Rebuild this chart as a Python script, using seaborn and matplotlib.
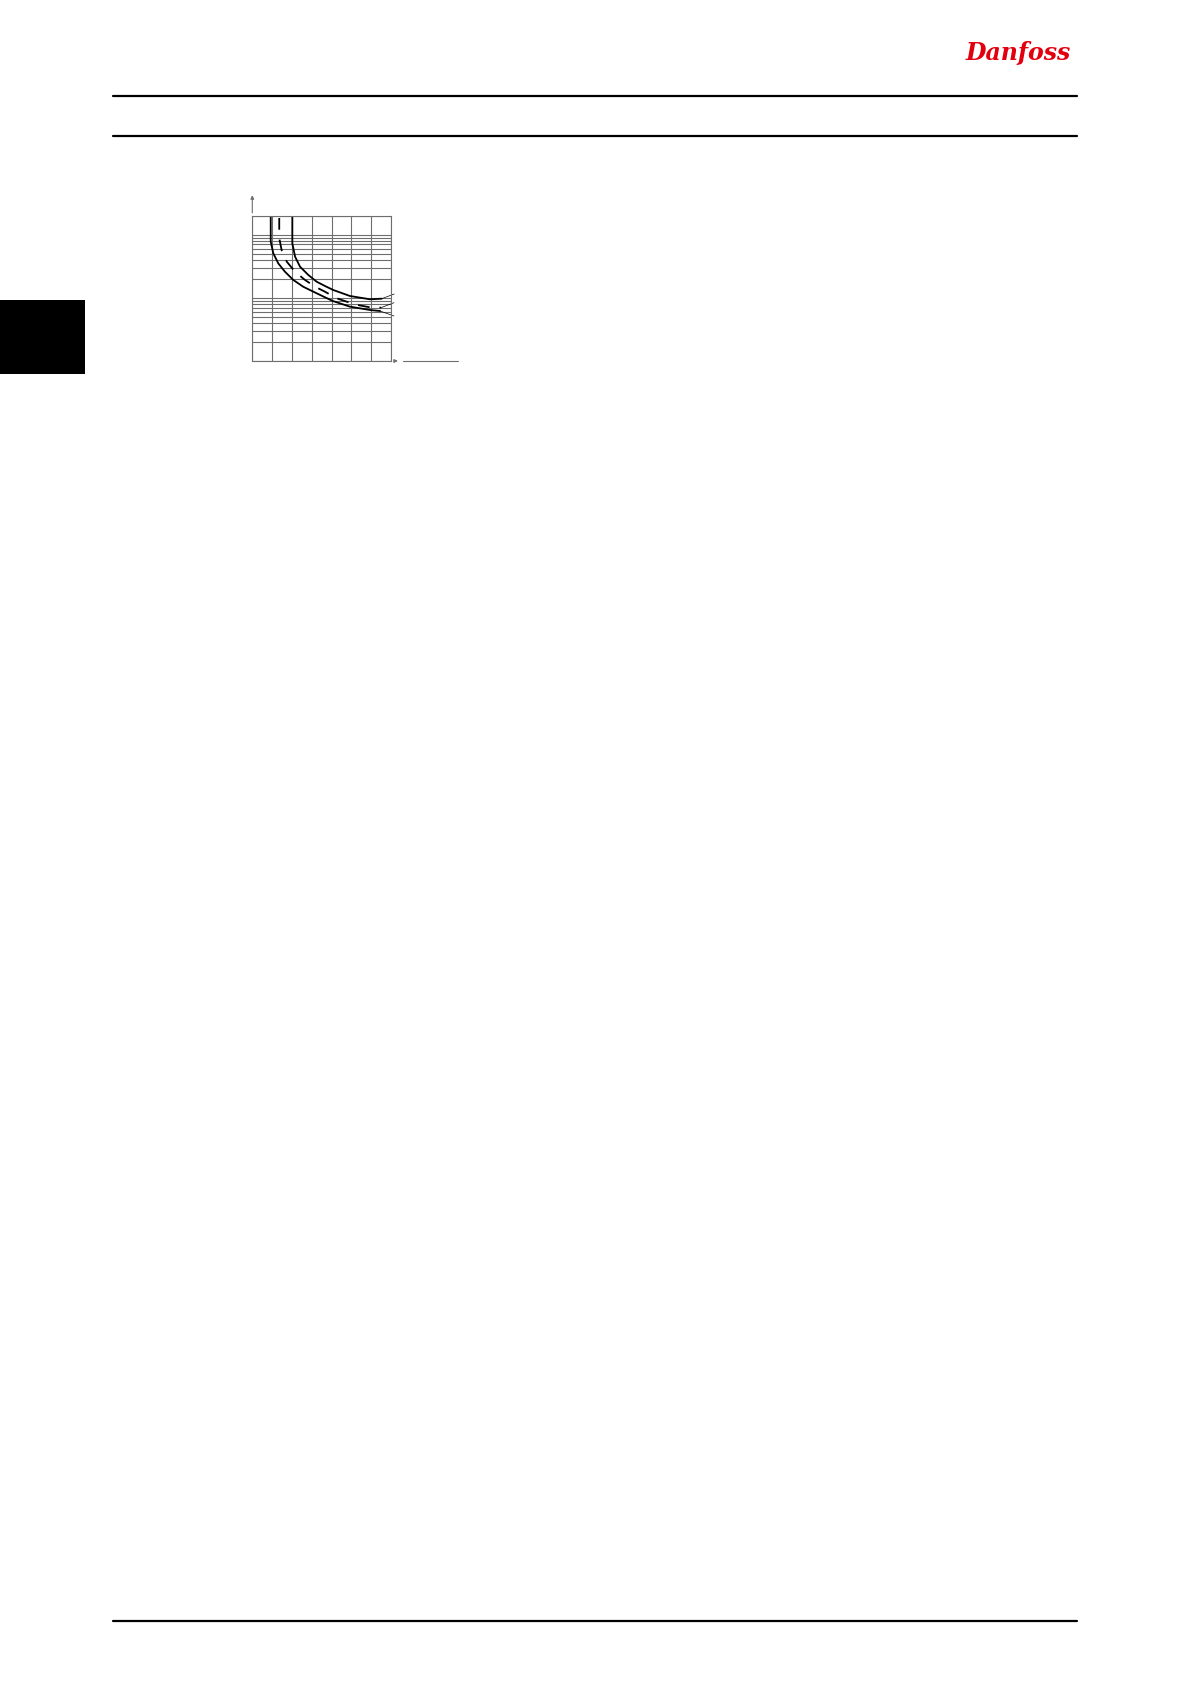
import matplotlib
matplotlib.use("Agg")
import matplotlib.pyplot as plt
from matplotlib.lines import Line2D
from matplotlib.patches import Rectangle
from matplotlib.ticker import LogLocator, NullFormatter
import seaborn as sns
import pandas as pd

# ---- data ----
curve_a_x = [0.93, 0.93, 1.06, 1.31, 1.65, 2.07, 2.57, 3.25, 3.67, 4.07, 4.93, 5.94, 6.45]
curve_a_y = [200, 77.5, 50.7, 35.2, 25.9, 19.2, 15.0, 11.8, 10.2, 8.9, 7.25, 6.42, 6.19]
curve_b_x = [1.36, 1.36, 1.48, 1.74, 2.16, 2.66, 3.17, 3.67, 4.26, 4.77, 5.40, 5.94, 6.50]
curve_b_y = [184, 88.7, 57.0, 37.4, 25.9, 19.2, 15.0, 12.5, 9.84, 8.69, 7.62, 7.08, 7.0]
curve_c_x = [2.02, 2.02, 2.16, 2.41, 2.83, 3.25, 3.67, 4.09, 4.93, 5.94, 6.53]
curve_c_y = [200, 73.0, 44.8, 31.1, 23.0, 18.0, 15.4, 13.3, 10.7, 9.49, 9.7]
# leader lines to the (unlabelled) curve tags
lead_a = ([6.45, 7.15], [6.19, 5.16])
lead_b = ([6.50, 7.15], [7.0, 8.38])
lead_c = ([6.53, 7.16], [9.7, 11.5])

W, H = 1191, 1684
sns.set_style("white")
fig = plt.figure(figsize=(W / 100, H / 100), dpi=100)

def fx(px):
    return px / W

def fy(py):
    return 1 - py / H

# page decorations
for y in (96, 136, 1621):
    fig.add_artist(Line2D([fx(113), fx(1077)], [fy(y), fy(y)], color="black", lw=1.6))
fig.add_artist(Rectangle((0, fy(374)), fx(85), (374 - 300) / H, color="black", lw=0))
fig.text(fx(966), fy(60), "Danfoss", color="#E2000F", fontsize=17, fontstyle="italic",
         fontweight="bold", family="DejaVu Serif", va="baseline", ha="left")

# chart axes
left, right, top, bottom = 252.3, 391.0, 215.7, 361.0
ax = fig.add_axes([fx(left), fy(bottom), (right - left) / W, (bottom - top) / H])

grid_c = "#6e6e6e"
df_a = pd.DataFrame({"x": curve_a_x, "y": curve_a_y})
df_b = pd.DataFrame({"x": curve_b_x, "y": curve_b_y})
df_c = pd.DataFrame({"x": curve_c_x, "y": curve_c_y})
sns.lineplot(data=df_a, x="x", y="y", ax=ax, sort=False, estimator=None, color="black", lw=1.3)
sns.lineplot(data=df_c, x="x", y="y", ax=ax, sort=False, estimator=None, color="black", lw=1.3)
sns.lineplot(data=df_b, x="x", y="y", ax=ax, sort=False, estimator=None, color="black", lw=1.3,
             dashes=False)
ax.lines[-1].set_dashes((6.5, 5.5))
for lx, ly in (lead_a, lead_b, lead_c):
    ax.plot(lx, ly, color="black", lw=0.5, clip_on=False)

ax.set_yscale("log")
ax.set_xlim(0, 7)
ax.set_ylim(1, 200)
ax.set_xticks(range(8))
ax.yaxis.set_major_locator(LogLocator(base=10, subs=(1.0,)))
ax.yaxis.set_minor_locator(LogLocator(base=10, subs=range(2, 10)))
ax.yaxis.set_minor_formatter(NullFormatter())
ax.grid(which="both", color=grid_c, lw=0.8)
ax.tick_params(which="both", length=0, labelleft=False, labelbottom=False)
ax.set_xlabel("")
ax.set_ylabel("")
for s in ax.spines.values():
    s.set_color(grid_c)
    s.set_linewidth(0.8)

# axis extensions with small arrows
ax.annotate("", xy=(0, 1.16), xytext=(0, 1.0), xycoords="axes fraction",
            arrowprops=dict(arrowstyle="-|>", color=grid_c, lw=0.8, mutation_scale=5))
ax.annotate("", xy=(1.07, 0), xytext=(1.0, 0), xycoords="axes fraction",
            arrowprops=dict(arrowstyle="-|>", color=grid_c, lw=0.8, mutation_scale=5))
ax.plot([1.087, 1.483], [0, 0], transform=ax.transAxes, color=grid_c, lw=0.8, clip_on=False)

fig.savefig("out.png", dpi=100)
